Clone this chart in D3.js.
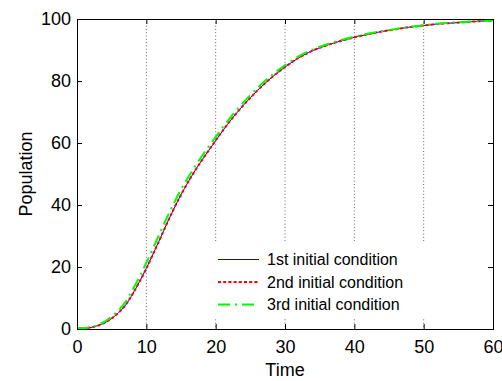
<!DOCTYPE html>
<html>
<head>
<meta charset="utf-8">
<script src="https://cdn.jsdelivr.net/npm/d3@7"></script>
<style>
  body { margin: 0; background: #fff; }
  svg { display: block; font-family: "Liberation Sans", Arial, sans-serif; }
  .axis path { display: none; }
  .axis line { stroke: #000; }
</style>
</head>
<body>
<div id="chart"></div>
<script>
// time samples (x) and population for the three initial conditions
var timeValues = [0,1,2,3,4,5,6,7,8,9,10,11,12,13,14,15,16,17,18,19,20,21,22,23,24,25,26,27,28,29,30,32,34,36,38,40,42,44,46,48,50,52,54,56,58,60];
var pop1 = [0.2,0.25,0.5,1.1,2.0,3.4,5.3,7.7,11.2,15.2,19.6,24.3,29.2,34.2,38.9,43.3,47.3,51.0,54.4,57.6,60.8,63.9,66.9,69.6,72.2,74.6,76.9,79.0,81.0,82.8,84.5,87.5,89.8,91.5,92.9,94.1,95.1,96.0,96.7,97.4,97.9,98.4,98.7,99.0,99.3,99.5];
var pop2 = [0.2,0.25,0.5,1.1,2.0,3.4,5.3,7.7,11.2,15.2,19.5,24.3,29.2,34.2,38.9,43.3,47.3,51.0,54.4,57.6,60.8,63.9,66.9,69.6,72.2,74.6,76.9,79.0,81.0,82.8,84.5,87.5,89.8,91.5,92.9,94.1,95.1,96.0,96.7,97.4,97.9,98.4,98.7,99.0,99.3,99.5];
var pop3 = [0.3,0.35,0.6,1.35,2.4,4.0,6.1,8.8,12.6,16.8,21.4,26.2,31.2,36.1,40.7,45.0,48.8,52.4,55.7,58.9,62.0,65.0,67.9,70.6,73.1,75.5,77.7,79.8,81.7,83.5,85.1,88.0,90.2,91.8,93.2,94.3,95.3,96.1,96.8,97.5,98.0,98.5,98.8,99.1,99.3,99.5];

var seriesNames = ["1st initial condition", "2nd initial condition", "3rd initial condition"];
var xTicks = [0, 10, 20, 30, 40, 50, 60];
var yTicks = [0, 20, 40, 60, 80, 100];

var svgWidth = 502, svgHeight = 381;
var margin = { top: 19, left: 77, right: 9, bottom: 52 };
var width = svgWidth - margin.left - margin.right;
var height = svgHeight - margin.top - margin.bottom;

var svg = d3.select("#chart").append("svg")
  .attr("width", svgWidth)
  .attr("height", svgHeight);

var g = svg.append("g")
  .attr("transform", `translate(${margin.left},${margin.top})`);

var x = d3.scaleLinear().domain([0, 60]).range([0, width]);
var y = d3.scaleLinear().domain([0, 100]).range([height, 0]);

// vertical dotted grid
g.selectAll(".grid")
  .data(xTicks.slice(1, -1))
  .enter().append("line")
  .attr("x1", d => x(d)).attr("x2", d => x(d))
  .attr("y1", 0).attr("y2", height)
  .attr("stroke", "#666")
  .attr("stroke-width", 1)
  .attr("stroke-dasharray", "1,2.3");

// styles per series
var styles = [
  { color: "#0000ff", width: 1, dash: null },
  { color: "#ff0000", width: 2, dash: "3,2.2" },
  { color: "#00ff00", width: 2, dash: "12,5,2,5" }
];
var seriesData = [pop1, pop2, pop3];

// legend background (covers grid)
var legendBox = { x: 205 - margin.left, y: 241 - margin.top, w: 225, h: 78 };
g.append("rect")
  .attr("x", legendBox.x).attr("y", legendBox.y)
  .attr("width", legendBox.w).attr("height", legendBox.h)
  .attr("fill", "#fff");

var line = d3.line()
  .x(d => x(d[0]))
  .y(d => y(d[1]))
  .curve(d3.curveMonotoneX);

seriesData.forEach(function(vals, i) {
  var pts = timeValues.map((t, j) => [t, vals[j]]);
  g.append("path")
    .datum(pts)
    .attr("fill", "none")
    .attr("stroke", styles[i].color)
    .attr("stroke-width", styles[i].width)
    .attr("stroke-dasharray", styles[i].dash)
    .attr("d", line);
});

// axes, ticks inside on all four sides
g.append("g").attr("class", "axis")
  .attr("transform", `translate(0,${height})`)
  .call(d3.axisBottom(x).tickValues(xTicks).tickSizeInner(-5).tickSizeOuter(0).tickPadding(11))
  .selectAll("text").attr("font-size", "18px").attr("font-family", "Liberation Sans, Arial, sans-serif");

g.append("g").attr("class", "axis")
  .call(d3.axisTop(x).tickValues(xTicks).tickSizeInner(-5).tickSizeOuter(0).tickFormat(""));

g.append("g").attr("class", "axis")
  .call(d3.axisLeft(y).tickValues(yTicks).tickSizeInner(-5).tickSizeOuter(0).tickPadding(6))
  .selectAll("text").attr("font-size", "18px").attr("font-family", "Liberation Sans, Arial, sans-serif");

g.append("g").attr("class", "axis")
  .attr("transform", `translate(${width},0)`)
  .call(d3.axisRight(y).tickValues(yTicks).tickSizeInner(-5).tickSizeOuter(0).tickFormat(""));

// frame
g.append("rect")
  .attr("x", 0.5).attr("y", 0.5)
  .attr("width", width).attr("height", height)
  .attr("fill", "none")
  .attr("stroke", "#000")
  .attr("stroke-width", 1);

// legend entries
var legendRows = [259.5, 282, 304.5];
seriesNames.forEach(function(name, i) {
  var ly = legendRows[i] - margin.top;
  g.append("line")
    .attr("x1", 218 - margin.left).attr("x2", 259 - margin.left)
    .attr("y1", ly).attr("y2", ly)
    .attr("stroke", styles[i].color)
    .attr("stroke-width", styles[i].width)
    .attr("stroke-dasharray", styles[i].dash);
  g.append("text")
    .attr("x", 267 - margin.left)
    .attr("y", ly + 5.5)
    .attr("font-size", "16px")
    .attr("fill", "#000")
    .text(name);
});

// axis labels
svg.append("text")
  .attr("x", margin.left + width / 2)
  .attr("y", 376)
  .attr("text-anchor", "middle")
  .attr("font-size", "18px")
  .text("Time");

svg.append("text")
  .attr("transform", `translate(32,${margin.top + height / 2}) rotate(-90)`)
  .attr("text-anchor", "middle")
  .attr("font-size", "18px")
  .text("Population");
</script>
</body>
</html>
